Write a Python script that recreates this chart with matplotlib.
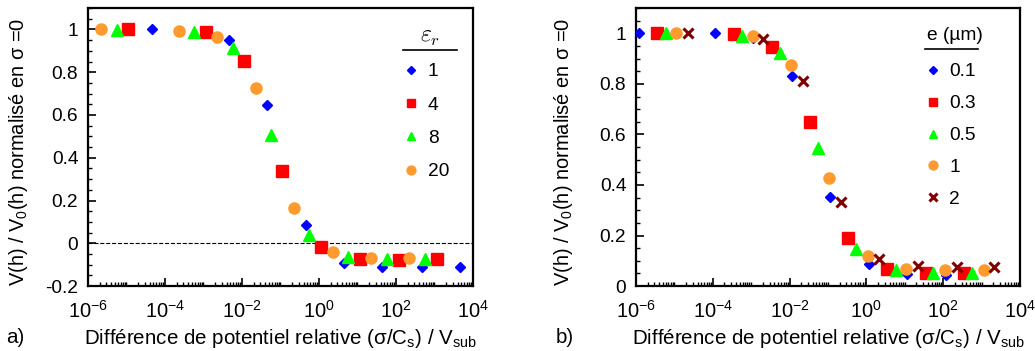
import numpy as np
import matplotlib.pyplot as plt
from matplotlib.ticker import LogLocator, MultipleLocator, FuncFormatter, NullFormatter

plt.rcParams['font.family'] = ['Liberation Sans', 'DejaVu Sans']
plt.rcParams['mathtext.fontset'] = 'custom'
plt.rcParams['mathtext.rm'] = 'Liberation Sans'
plt.rcParams['mathtext.it'] = 'Liberation Sans:italic'

# a) relative permittivity eps_r  (x given as log10 of the abscissa)
eps_labels = ['1', '4', '8', '20']
eps_logx = [
    [-4.33, -2.34, -1.35, -0.35, 0.65, 1.64, 2.68, 3.65],
    [-4.96, -2.94, -1.95, -0.95, 0.06, 1.06, 2.07, 3.06],
    [-5.24, -3.25, -2.23, -1.25, -0.25, 0.76, 1.77, 2.76],
    [-5.65, -3.64, -2.64, -1.63, -0.64, 0.36, 1.36, 2.35],
]
eps_y = [
    [1.0, 0.953, 0.648, 0.084, -0.09, -0.109, -0.112, -0.109],
    [1.0, 0.986, 0.854, 0.340, -0.017, -0.075, -0.078, -0.075],
    [0.997, 0.989, 0.911, 0.506, 0.037, -0.062, -0.075, -0.075],
    [1.0, 0.994, 0.963, 0.724, 0.164, -0.040, -0.069, -0.069],
]

# b) thickness e (um)
e_labels = ['0.1', '0.3', '0.5', '1', '2']
e_logx = [
    [-5.93, -3.95, -2.95, -1.95, -0.94, 0.06, 1.07, 2.07],
    [-5.45, -3.46, -2.47, -1.48, -0.47, 0.53, 1.55, 2.53],
    [-5.22, -3.24, -2.24, -1.25, -0.26, 0.76, 1.74, 2.74],
    [-4.96, -2.95, -1.96, -0.97, 0.045, 1.04, 2.05, 3.05],
    [-4.65, -2.68, -1.65, -0.66, 0.33, 1.35, 2.35, 3.33],
]
e_y = [
    [1.0, 1.0, 0.980, 0.831, 0.352, 0.086, 0.049, 0.044],
    [1.0, 0.996, 0.947, 0.648, 0.190, 0.066, 0.051, 0.051],
    [1.0, 0.991, 0.924, 0.548, 0.146, 0.062, 0.053, 0.053],
    [1.0, 0.991, 0.874, 0.426, 0.118, 0.069, 0.065, 0.065],
    [1.0, 0.977, 0.810, 0.332, 0.109, 0.080, 0.077, 0.077],
]

colors = ['#0000ff', '#ff0000', '#00ff00', '#ff9a2e', '#800000']
markers = ['D', 's', '^', 'o', 'x']
msizes = [5.5, 8, 8, 8, 7]

xlabel = r'Différence de potentiel relative (σ/C$_\mathrm{s}$) / V$_\mathrm{sub}$'
ylabel = r'V(h) / V$_0$(h) normalisé en σ =0'
fs = 13.8

fig = plt.figure(figsize=(10.35, 3.51), dpi=100)
ax1 = fig.add_axes([0.085, 0.185, 0.372, 0.792])
ax2 = fig.add_axes([0.6145, 0.185, 0.371, 0.792])


def style_axis(ax, ylim, ylab_x):
    ax.set_xscale('log')
    ax.set_xlim(1e-6, 1e4)
    ax.set_ylim(*ylim)
    ax.xaxis.set_major_locator(LogLocator(base=100, numticks=20))
    ax.xaxis.set_minor_locator(LogLocator(base=10, subs=np.arange(1, 10), numticks=200))
    ax.xaxis.set_minor_formatter(NullFormatter())
    ax.yaxis.set_major_locator(MultipleLocator(0.2))
    ax.yaxis.set_minor_locator(MultipleLocator(0.05))
    ax.yaxis.set_major_formatter(FuncFormatter(lambda v, p: '%g' % round(v, 2)))
    ax.tick_params(which='both', direction='in', top=False, right=False)
    ax.tick_params(which='major', length=6, width=1.2)
    ax.tick_params(which='minor', length=3, width=1)
    ax.tick_params(axis='x', pad=10, labelsize=14.5)
    ax.tick_params(axis='y', pad=7, labelsize=fs)
    for s in ax.spines.values():
        s.set_linewidth(1.6)
    ax.set_xlabel(xlabel, fontsize=14.8, va='baseline')
    ax.xaxis.set_label_coords(0.5, -0.21)
    ax.set_ylabel(ylabel, fontsize=14.4, va='center')
    ax.yaxis.set_label_coords(ylab_x, 0.482)


def add_legend(ax, handles_x, line_x, line_y, spacing):
    ax.legend(frameon=False, loc='upper left', bbox_to_anchor=(handles_x, 0.803),
              borderpad=0, borderaxespad=0, fontsize=fs, handlelength=0.8,
              handletextpad=0.45, labelspacing=spacing, markerscale=0.8)
    ax.plot(line_x, [line_y, line_y], color='black', lw=1.2,
            transform=ax.transAxes, clip_on=False)


# panel a
style_axis(ax1, (-0.2, 1.1), -0.18)
ax1.axhline(0, color='black', lw=0.8, ls='--', zorder=1)
for i, lab in enumerate(eps_labels):
    ax1.plot(10 ** np.array(eps_logx[i]), eps_y[i], ls='none', marker=markers[i],
             ms=msizes[i], color=colors[i], mec=colors[i], label=lab, zorder=3)
add_legend(ax1, 0.82, [0.818, 0.958], 0.849, 0.83)
ax1.text(0.888, 0.897, r'$\varepsilon_r$', transform=ax1.transAxes, ha='center',
         va='center', fontsize=17, math_fontfamily='cm')

# panel b
style_axis(ax2, (0, 1.1), -0.19)
for i, lab in enumerate(e_labels):
    ms_kw = dict(mew=2.2) if markers[i] == 'x' else {}
    ax2.plot(10 ** np.array(e_logx[i]), e_y[i], ls='none', marker=markers[i],
             ms=msizes[i], color=colors[i], mec=colors[i], label=lab, zorder=3, **ms_kw)
add_legend(ax2, 0.754, [0.753, 0.891], 0.853, 0.76)
ax2.text(0.83, 0.903, 'e (µm)', transform=ax2.transAxes, ha='center',
         va='center', fontsize=fs)

fig.text(0.006, 0.022, 'a)', fontsize=14.8, va='baseline')
fig.text(0.537, 0.022, 'b)', fontsize=14.8, va='baseline')

fig.savefig('out.png', dpi=100)
